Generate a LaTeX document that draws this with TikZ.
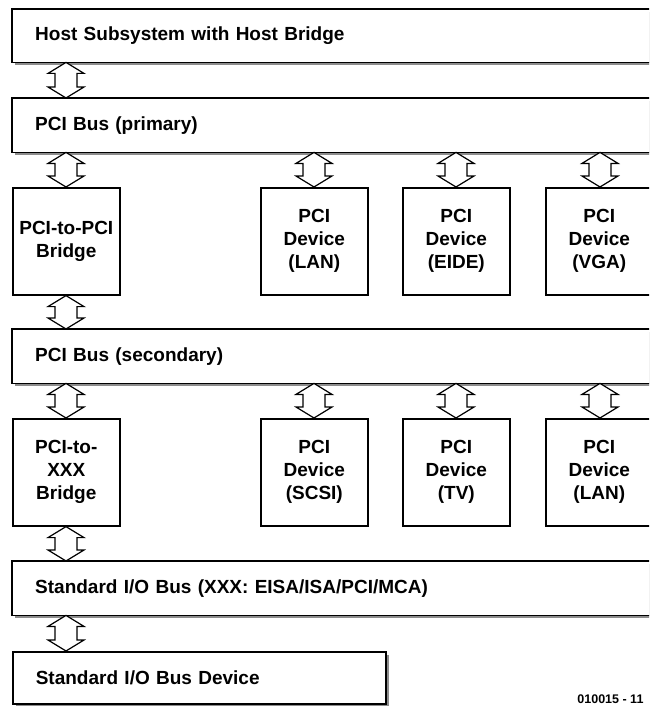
\documentclass[tikz,border=0pt]{standalone}
\usepackage{fontspec}
\setmainfont{Liberation Sans}
\usetikzlibrary{shadows,calc}
\newcommand{\busarrow}[3]{%
  \path (#1,0 |- #2.south) coordinate (at) (#1,0 |- #3.north) coordinate (ab);
  \draw[dbl] let \p1=(at), \p2=(ab) in
   (\x1,\y1) -- (\x1-18pt,\y1-11pt) -- (\x1-11pt,\y1-11pt) -- (\x1-11pt,\y2+11pt)
   -- (\x1-18pt,\y2+11pt) -- (\x1,\y2) -- (\x1+18pt,\y2+11pt) -- (\x1+11pt,\y2+11pt)
   -- (\x1+11pt,\y1-11pt) -- (\x1+18pt,\y1-11pt) -- cycle;}
\newcommand{\openbar}[1]{%
  \draw[line width=1.6pt] (#1.north east) -- (#1.north west) -- (#1.south west) -- (#1.south east);}
\begin{document}
\begin{tikzpicture}[x=1pt,y=-1pt,
  font=\bfseries\fontsize{19}{23}\selectfont,
  box/.style={draw=black, line width=1.6pt, fill=white, rectangle, inner sep=0pt},
  shad/.style={drop shadow={shadow xshift=3pt, shadow yshift=-3pt, fill=black!45, opacity=1}},
  bus/.style={fill=white, rectangle, inner sep=0pt, shad, anchor=north west, minimum height=54pt, text width=654pt, inner xsep=23pt, align=left, minimum width=700pt},
  dev/.style={box, anchor=north west, minimum width=107pt, minimum height=107pt, align=center},
  dbl/.style={draw=black, line width=1.2pt, fill=white, line join=miter}]
\useasboundingbox (0,0) rectangle (649,706);
\clip (0,0) rectangle (649,706);
\node[bus, minimum height=53pt] (host) at (12,9) {Host Subsystem with Host Bridge};
\openbar{host}
\node[bus] (pri) at (12,98) {PCI Bus (primary)};
\openbar{pri}
\node[dev] (b1) at (12,187) {PCI-to-PCI\\Bridge};
\node[dev] (lan) at (260,187) {PCI\\Device\\(LAN)};
\node[dev] (eide) at (402,187) {PCI\\Device\\(EIDE)};
\node[dev] (vga) at (545,187) {PCI\\Device\\(VGA)};
\node[bus] (sec) at (12,329) {PCI Bus (secondary)};
\openbar{sec}
\node[dev] (b2) at (12,418) {PCI-to-\\XXX\\Bridge};
\node[dev] (scsi) at (260,418) {PCI\\Device\\(SCSI)};
\node[dev] (tv) at (402,418) {PCI\\Device\\(TV)};
\node[dev] (lan2) at (545,418) {PCI\\Device\\(LAN)};
\node[bus] (std) at (12,561) {Standard I/O Bus (XXX: EISA/ISA/PCI/MCA)};
\openbar{std}
\node[bus, box, minimum height=52pt, text width=327pt, minimum width=373pt] (sdev) at (12,651) {Standard I/O Bus Device};
\node[anchor=base east, font=\bfseries\fontsize{12.5}{14}\selectfont] (code) at (647,703) {010015 - 11};
\busarrow{66}{host}{pri}
\busarrow{66}{pri}{b1}
\busarrow{314}{pri}{lan}
\busarrow{456}{pri}{eide}
\busarrow{600}{pri}{vga}
\busarrow{66}{b1}{sec}
\busarrow{66}{sec}{b2}
\busarrow{314}{sec}{scsi}
\busarrow{456}{sec}{tv}
\busarrow{600}{sec}{lan2}
\busarrow{66}{b2}{std}
\busarrow{66}{std}{sdev}
\end{tikzpicture}
\end{document}
